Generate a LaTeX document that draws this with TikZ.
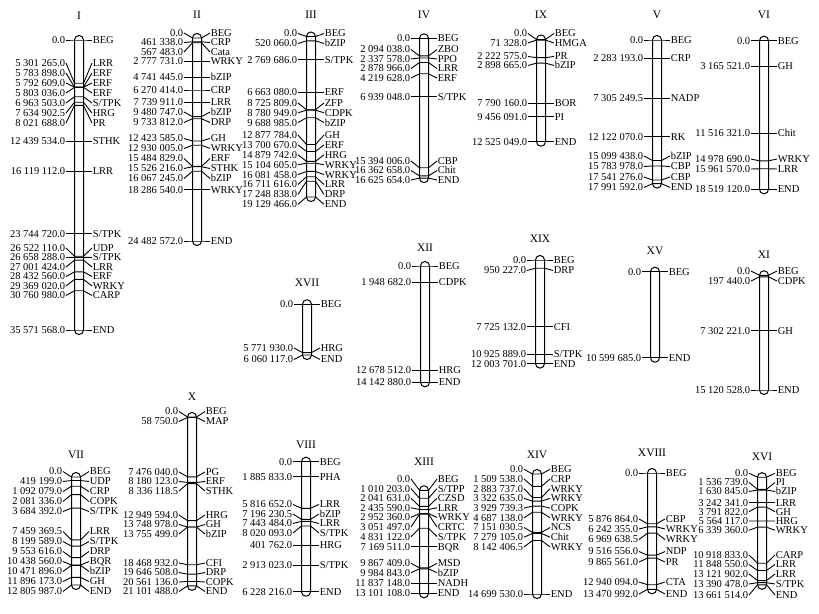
\documentclass[tikz,border=0pt]{standalone}
\usepackage{fontspec}
\setmainfont{Liberation Serif}
\usepackage{tikz}
\usetikzlibrary{positioning}

\newcommand{\stpk}{S/TPK}
\newcommand{\stpp}{S/TPP}

% #1 title, #2 centre x, #3 y of 0.0, #4 y of END, #5 length, #6 title y, #7 markers
\newcommand{\chromosome}[7]{%
  \node[title] (#1) at (#2,#6) {#1};
  \draw[chrom] (#2-4.5,#3-4.5) rectangle (#2+4.5,#4+4.5);
  \foreach \pos/\ly/\numtxt/\gene [count=\i] in {#7} {
    \pgfmathsetmacro\my{#3+\pos/#5*(#4-#3)}
    \pgfmathsetmacro\yy{\ly<0 ? \my : \ly}
    \node[numlab] (#1-n\i) at (#2-13,\yy) {\numtxt};
    \node[genelab] (#1-g\i) at (#2+13,\yy) {\gene};
    \coordinate (#1-l\i) at (#2-4.5,\my);
    \coordinate (#1-r\i) at (#2+4.5,\my);
    \draw[marker] (#1-n\i.east) -- (#1-l\i) -- (#1-r\i) -- (#1-g\i.west);
  }%
}

\begin{document}
\begin{tikzpicture}[
    x=1pt, y=-1pt,
    title/.style={font=\fontsize{11.5}{12}\selectfont, inner sep=0pt},
    numlab/.style={anchor=east, inner sep=0.6pt, text height=6.9pt, text depth=0pt,
        font=\fontsize{10.5}{11}\selectfont},
    genelab/.style={anchor=west, inner sep=0.6pt, text height=6.9pt, text depth=0pt,
        font=\fontsize{10.5}{11}\selectfont},
    chrom/.style={draw, line width=1pt, fill=white, rounded corners=4.4pt},
    marker/.style={line width=0.9pt}
]
\useasboundingbox (0,0) rectangle (819,613);

% top row
\chromosome{I}{79}{40}{330}{35.571568}{16}{
  0/-1/0.0/BEG,
  5.301265/63/5 301 265.0/LRR,
  5.783898/73/5 783 898.0/ERF,
  5.792609/83/5 792 609.0/ERF,
  5.803036/93/5 803 036.0/ERF,
  6.963503/103/6 963 503.0/\stpk,
  7.6349025/113/7 634 902.5/HRG,
  8.021688/123/8 021 688.0/PR,
  12.439534/-1/12 439 534.0/STHK,
  16.119112/-1/16 119 112.0/LRR,
  23.744720/-1/23 744 720.0/\stpk,
  26.522110/248/26 522 110.0/UDP,
  26.658288/257.5/26 658 288.0/\stpk,
  27.001424/267/27 001 424.0/LRR,
  28.432560/276.5/28 432 560.0/ERF,
  29.369020/286/29 369 020.0/WRKY,
  30.760980/295.5/30 760 980.0/CARP,
  35.571568/-1/35 571 568.0/END}

\chromosome{II}{197}{38}{241}{24.482572}{15}{
  0/33/0.0/BEG,
  0.461338/42.5/461 338.0/CRP,
  0.567483/52/567 483.0/Cata,
  2.777731/-1/2 777 731.0/WRKY,
  4.741445/-1/4 741 445.0/bZIP,
  6.270414/-1/6 270 414.0/CRP,
  7.739911/-1/7 739 911.0/LRR,
  9.480747/112/9 480 747.0/bZIP,
  9.733812/122.5/9 733 812.0/DRP,
  12.423585/138.5/12 423 585.0/GH,
  12.930005/148.5/12 930 005.0/WRKY,
  15.484829/158.5/15 484 829.0/ERF,
  15.526216/168.5/15 526 216.0/STHK,
  16.067245/178.5/16 067 245.0/bZIP,
  18.286540/-1/18 286 540.0/WRKY,
  24.482572/-1/24 482 572.0/END}

\chromosome{III}{311}{36.5}{197}{19.129466}{15}{
  0/33.5/0.0/BEG,
  0.520060/43.5/520 060.0/bZIP,
  2.769686/-1/2 769 686.0/\stpk,
  6.663080/-1/6 663 080.0/ERF,
  8.725809/103/8 725 809.0/ZFP,
  8.780949/112.8/8 780 949.0/CDPK,
  9.688985/122.6/9 688 985.0/bZIP,
  12.877784/135/12 877 784.0/GH,
  13.700670/144.9/13 700 670.0/ERF,
  14.879742/154.8/14 879 742.0/HRG,
  15.104605/164.7/15 104 605.0/WRKY,
  16.081458/174.6/16 081 458.0/WRKY,
  16.711616/184.5/16 711 616.0/LRR,
  17.248838/194.4/17 248 838.0/DRP,
  19.129466/204.3/19 129 466.0/END}

\chromosome{IV}{424}{38.3}{178.1}{16.625654}{15}{
  0/-1/0.0/BEG,
  2.094038/49.5/2 094 038.0/ZBO,
  2.337578/59/2 337 578.0/PPO,
  2.878966/68.5/2 878 966.0/LRR,
  4.219628/78/4 219 628.0/ERF,
  6.939048/-1/6 939 048.0/\stpk,
  15.394006/161/15 394 006.0/CBP,
  16.362658/170.5/16 362 658.0/Chit,
  16.625654/180/16 625 654.0/END}

\chromosome{IX}{541}{39.5}{141.7}{12.525049}{15}{
  0/33.5/0.0/BEG,
  0.071328/43/71 328.0/HMGA,
  2.222575/56.5/2 222 575.0/PR,
  2.898665/65.5/2 898 665.0/bZIP,
  7.790160/-1/7 790 160.0/BOR,
  9.456091/-1/9 456 091.0/PI,
  12.525049/-1/12 525 049.0/END}

\chromosome{V}{657}{40}{183.6}{17.991592}{15}{
  0/-1/0.0/BEG,
  2.283193/-1/2 283 193.0/CRP,
  7.3052495/-1/7 305 249.5/NADP,
  12.122070/-1/12 122 070.0/RK,
  15.099438/156/15 099 438.0/bZIP,
  15.783978/166.5/15 783 978.0/CBP,
  17.541276/177/17 541 276.0/CBP,
  17.991592/187.5/17 991 592.0/END}

\chromosome{VI}{764}{40.7}{189.3}{18.519120}{15}{
  0/-1/0.0/BEG,
  3.165521/-1/3 165 521.0/GH,
  11.516321/-1/11 516 321.0/Chit,
  14.978690/159/14 978 690.0/WRKY,
  15.961570/169/15 961 570.0/LRR,
  18.519120/-1/18 519 120.0/END}

% middle row
\chromosome{XVII}{307}{304.3}{355}{6.060117}{283}{
  0/-1/0.0/BEG,
  5.771930/348/5 771 930.0/HRG,
  6.060117/359.5/6 060 117.0/END}

\chromosome{XII}{425}{266}{382.3}{14.142880}{248}{
  0/-1/0.0/BEG,
  1.948682/-1/1 948 682.0/CDPK,
  12.678512/-1/12 678 512.0/HRG,
  14.142880/-1/14 142 880.0/END}

\chromosome{XIX}{540}{260}{363.6}{12.003701}{239}{
  0/-1/0.0/BEG,
  0.950227/270.5/950 227.0/DRP,
  7.725132/-1/7 725 132.0/CFI,
  10.925889/-1/10 925 889.0/\stpk,
  12.003701/-1/12 003 701.0/END}

\chromosome{XV}{655}{271.7}{357.7}{10.599685}{251}{
  0/-1/0.0/BEG,
  10.599685/-1/10 599 685.0/END}

\chromosome{XI}{764}{275.3}{390}{15.120528}{255}{
  0/271/0.0/BEG,
  0.197440/281/197 440.0/CDPK,
  7.302221/-1/7 302 221.0/GH,
  15.120528/-1/15 120 528.0/END}

% bottom row
\chromosome{VII}{76}{477}{585}{12.805987}{455}{
  0/471.5/0.0/BEG,
  0.419199/481.5/419 199.0/UDP,
  1.092079/491.5/1 092 079.0/CRP,
  2.081336/501.5/2 081 336.0/COPK,
  3.684392/511.5/3 684 392.0/\stpk,
  7.4593695/531.5/7 459 369.5/LRR,
  8.199589/541.5/8 199 589.0/\stpk,
  9.553616/551.5/9 553 616.0/DRP,
  10.438560/561.5/10 438 560.0/BQR,
  10.471896/571.5/10 471 896.0/bZIP,
  11.896173/581.5/11 896 173.0/GH,
  12.805987/591.5/12 805 987.0/END}

\chromosome{X}{192}{417}{585.8}{21.101488}{397}{
  0/411.5/0.0/BEG,
  0.058750/421.5/58 750.0/MAP,
  7.476040/472/7 476 040.0/PG,
  8.180123/481.5/8 180 123.0/ERF,
  8.3361185/491/8 336 118.5/STHK,
  12.949594/515/12 949 594.0/HRG,
  13.748978/524.5/13 748 978.0/GH,
  13.755499/534/13 755 499.0/bZIP,
  18.468932/563/18 468 932.0/CFI,
  19.646508/572.5/19 646 508.0/DRP,
  20.561136/582/20 561 136.0/COPK,
  21.101488/591.5/21 101 488.0/END}

\chromosome{VIII}{306}{461.7}{591.7}{16.228216}{445}{
  0/-1/0.0/BEG,
  1.885833/-1/1 885 833.0/PHA,
  5.816652/504.5/5 816 652.0/LRR,
  7.1962305/514/7 196 230.5/bZIP,
  7.443484/523.5/7 443 484.0/LRR,
  8.020093/533/8 020 093.0/\stpk,
  10.401762/-1/401 762.0/HRG,
  12.913023/-1/2 913 023.0/\stpk,
  16.228216/-1/6 228 216.0/END}

\chromosome{XIII}{424}{490.3}{593.3}{13.101108}{462}{
  0/479/0.0/BEG,
  1.010203/488.6/1 010 203.0/\stpp,
  2.041631/498.2/2 041 631.0/CZSD,
  2.435590/507.8/2 435 590.0/LRR,
  2.952360/517.4/2 952 360.0/WRKY,
  3.051497/527/3 051 497.0/CRTC,
  4.831122/536.6/4 831 122.0/\stpk,
  7.169511/-1/7 169 511.0/BQR,
  9.867409/563.3/9 867 409.0/MSD,
  9.984843/572.7/9 984 843.0/bZIP,
  11.837148/-1/11 837 148.0/NADH,
  13.101108/-1/13 101 108.0/END}

\chromosome{XIV}{537}{474}{594}{14.699530}{455}{
  0/469.3/0.0/BEG,
  1.509538/479/1 509 538.0/CRP,
  2.883737/488.7/2 883 737.0/WRKY,
  3.322635/498.4/3 322 635.0/WRKY,
  3.9297393/508.1/3 929 739.3/COPK,
  4.687138/517.8/4 687 138.0/WRKY,
  7.1510305/527.5/7 151 030.5/NCS,
  7.279105/537.2/7 279 105.0/Chit,
  8.1424065/546.9/8 142 406.5/WRKY,
  14.699530/-1/14 699 530.0/END}

\chromosome{XVIII}{652}{473}{589.3}{13.470992}{453}{
  0/-1/0.0/BEG,
  5.876864/519/5 876 864.0/CBP,
  6.242355/529/6 242 355.0/WRKY,
  6.9696385/539.5/6 969 638.5/WRKY,
  9.516556/551.5/9 516 556.0/NDP,
  9.865561/562/9 865 561.0/PR,
  12.940094/582/12 940 094.0/CTA,
  13.470992/594/13 470 992.0/END}

\chromosome{XVI}{762}{477.2}{584.8}{13.661514}{457}{
  0/473.3/0.0/BEG,
  1.536739/482.5/1 536 739.0/PI,
  1.630845/491.5/1 630 845.0/bZIP,
  3.242341/-1/3 242 341.0/LRR,
  3.791822/511.7/3 791 822.0/GH,
  5.564117/521/5 564 117.0/HRG,
  6.339360/530.3/6 339 360.0/WRKY,
  10.918833/555/10 918 833.0/CARP,
  11.848550/564.5/11 848 550.0/LRR,
  13.121902/574/13 121 902.0/LRR,
  13.390478/584/13 390 478.0/\stpk,
  13.661514/595/13 661 514.0/END}

\end{tikzpicture}
\end{document}
